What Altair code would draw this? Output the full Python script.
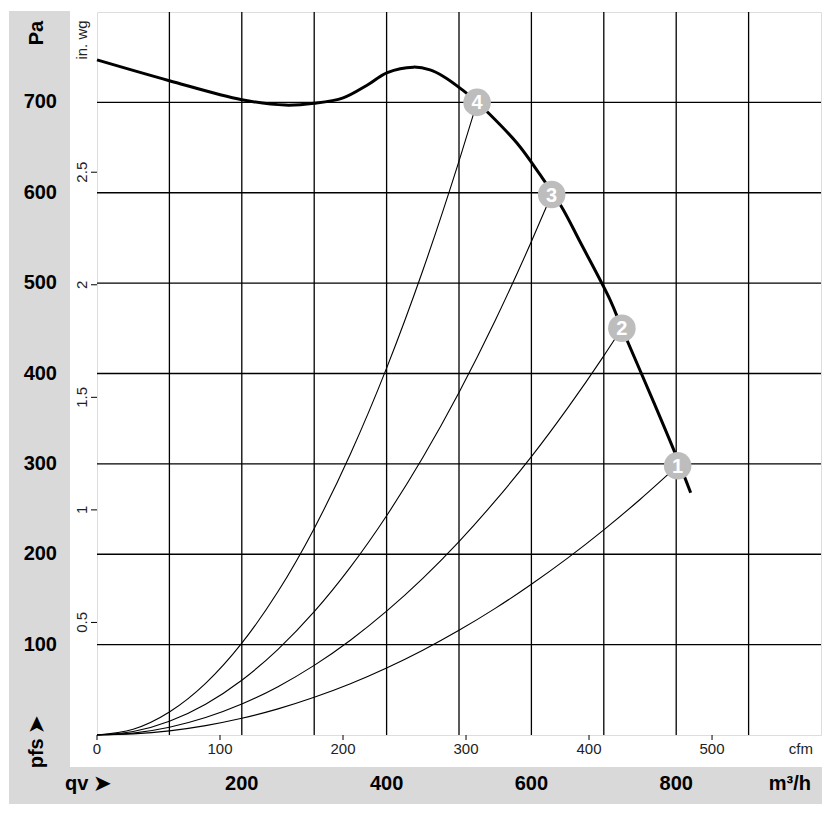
import altair as alt
import pandas as pd

# ---- data ----
fan_q = [0, 100, 200, 260, 300, 340, 373, 401, 437, 460, 478, 506, 525, 541, 580, 612, 642, 667, 709, 725, 768, 802, 820]
fan_p = [747, 724, 703, 697, 699, 705, 719, 733, 739, 736, 729, 713, 700, 688, 655, 620, 584, 546, 481, 450, 370, 305, 268]

op_id = ["1", "2", "3", "4"]
op_q = [802, 725, 628, 525]
op_p = [298, 450, 598, 700]

sys1_q = [0, 50, 100, 150, 200, 250, 300, 350, 400, 450, 500, 550, 600, 650, 700, 750, 802]
sys1_p = [0, 1.2, 4.6, 10.4, 18.5, 28.9, 41.7, 56.7, 74.1, 93.8, 115.8, 140.1, 166.8, 195.7, 227, 260.6, 298]
sys2_q = [0, 50, 100, 150, 200, 250, 300, 350, 400, 450, 500, 550, 600, 650, 700, 725]
sys2_p = [0, 2.1, 8.6, 19.3, 34.2, 53.5, 77, 104.9, 137, 173.3, 214, 259, 308, 361.7, 419.5, 450]
sys3_q = [0, 50, 100, 150, 200, 250, 300, 350, 400, 450, 500, 550, 600, 628]
sys3_p = [0, 3.8, 15.2, 34.1, 60.6, 94.8, 136.4, 185.7, 242.6, 307, 379, 458.6, 546, 598]
sys4_q = [0, 50, 100, 150, 200, 250, 300, 350, 400, 450, 500, 525]
sys4_p = [0, 6.3, 25.4, 57.1, 101.6, 158.7, 228.6, 311, 406, 514, 635, 700]

grid_q = [100, 200, 300, 400, 500, 600, 700, 800, 900]
grid_p = [100, 200, 300, 400, 500, 600, 700]
m3h_labels = [200, 400, 600, 800]
pa_labels = [100, 200, 300, 400, 500, 600, 700]
cfm_ticks = [0, 100, 200, 300, 400, 500]
inwg_ticks = ["0.5", "1", "1.5", "2", "2.5"]

# ---- tables ----
fan_df = pd.DataFrame({"q": fan_q, "p": fan_p})
op_df = pd.DataFrame({"id": op_id, "q": op_q, "p": op_p})
sys_frames = []
for name, qs, ps in [("1", sys1_q, sys1_p), ("2", sys2_q, sys2_p), ("3", sys3_q, sys3_p), ("4", sys4_q, sys4_p)]:
    sys_frames.append(pd.DataFrame({"curve": name, "q": qs, "p": ps}))
sys_df = pd.concat(sys_frames, ignore_index=True)
one = pd.DataFrame({"a": [0]})

W, H = 724, 723
xs = alt.Scale(domain=[0, 1000], nice=False, zero=True)
ys = alt.Scale(domain=[0, 800], nice=False, zero=True)
FONT = "Liberation Sans"
BAND = "#d9d9d9"
SEC = "#222222"

def X(field="q:Q"):
    return alt.X(field, scale=xs, axis=None)

def Y(field="p:Q"):
    return alt.Y(field, scale=ys, axis=None)

# gray bands
band_left = alt.Chart(one).mark_rect(color=BAND).encode(
    x=alt.value(-88), x2=alt.value(-27), y=alt.value(-1), y2=alt.value(792))
band_bottom = alt.Chart(one).mark_rect(color=BAND).encode(
    x=alt.value(-88), x2=alt.value(725), y=alt.value(755), y2=alt.value(792))

# grid
grid_x = alt.Chart(pd.DataFrame({"q": grid_q})).mark_rule(color="black", strokeWidth=1.3).encode(
    x=X(), y=alt.value(0), y2=alt.value(H))
grid_y = alt.Chart(pd.DataFrame({"p": grid_p})).mark_rule(color="black", strokeWidth=1.3).encode(
    y=Y(), x=alt.value(0), x2=alt.value(W))

# primary tick labels (m³/h and Pa)
m3h_lbl = alt.Chart(pd.DataFrame({"q": m3h_labels})).mark_text(
    fontSize=20, fontWeight="bold", font=FONT, color="black", baseline="middle").encode(
    x=X(), y=alt.value(772), text="q:N")
pa_lbl = alt.Chart(pd.DataFrame({"p": pa_labels})).mark_text(
    fontSize=20, fontWeight="bold", font=FONT, color="black", baseline="middle", align="right").encode(
    y=Y(), x=alt.value(-40), text="p:N")

# system curves
sys_lines = alt.Chart(sys_df).mark_line(color="black", strokeWidth=1.1, interpolate="monotone").encode(
    x=X(), y=Y(), detail="curve:N")

# fan curve
fan_line = alt.Chart(fan_df).mark_line(color="black", strokeWidth=3, interpolate="catmull-rom").encode(
    x=X(), y=Y())

# operating points
op_circ = alt.Chart(op_df).mark_circle(size=760, color="#bdbdbd", opacity=1).encode(x=X(), y=Y())
op_txt = alt.Chart(op_df).mark_text(color="white", fontSize=20, fontWeight="bold", font=FONT,
                                    baseline="middle", dy=1).encode(x=X(), y=Y(), text="id:N")

# cfm secondary axis
cfm_base = alt.Chart(pd.DataFrame({"cfm": cfm_ticks})).transform_calculate(q="datum.cfm * 1.699")
cfm_tick = cfm_base.mark_rule(color="black", strokeWidth=1).encode(
    x=X(), y=alt.value(H), y2=alt.value(H + 5))
cfm_lbl = cfm_base.mark_text(fontSize=15, color=SEC, font=FONT, baseline="middle").encode(
    x=X(), y=alt.value(H + 14), text="cfm:N")

# in. wg secondary axis
inwg_base = alt.Chart(pd.DataFrame({"inwg": inwg_ticks})).transform_calculate(
    p="toNumber(datum.inwg) * 249.09")
inwg_tick = inwg_base.mark_rule(color="black", strokeWidth=1).encode(
    y=Y(), x=alt.value(-6), x2=alt.value(0))
inwg_lbl = inwg_base.mark_text(fontSize=15, color=SEC, font=FONT, angle=270,
                               baseline="middle", align="center").encode(
    y=Y(), x=alt.value(-15), text="inwg:N")

def label(txt, x, y, size=20, bold=True, angle=0, align="center", color="black"):
    kw = dict(text=txt, fontSize=size, font=FONT, color=color, baseline="middle", align=align)
    if bold:
        kw["fontWeight"] = "bold"
    if angle:
        kw["angle"] = angle
    return alt.Chart(one).mark_text(**kw).encode(x=alt.value(x), y=alt.value(y))

t_pa = label("Pa", -60, 21, angle=270)
t_inwg = label("in. wg", -15, 28, size=15, bold=False, angle=270, color=SEC)
t_pfs = label("pfs  \u27a4", -60, 730, angle=270)
t_qv = label("qv  \u27a4", -32, 772, align="left")
t_m3h = label("m\u00b3/h", 714, 772, align="right")
t_cfm = label("cfm", 716, 737, size=15, bold=False, align="right", color=SEC)

chart = alt.layer(
    band_left, band_bottom, grid_x, grid_y, m3h_lbl, pa_lbl,
    sys_lines, fan_line, op_circ, op_txt,
    cfm_tick, cfm_lbl, inwg_tick, inwg_lbl,
    t_pa, t_inwg, t_pfs, t_qv, t_m3h, t_cfm,
).properties(
    width=W, height=H,
    padding={"left": 97, "top": 12, "right": 13, "bottom": 91},
    autosize=alt.AutoSizeParams(type="none"),
    background="white",
).configure_view(stroke="black", strokeWidth=1.5).configure(font=FONT)

chart.save("out.html", embed_options={"renderer": "svg", "actions": False})
